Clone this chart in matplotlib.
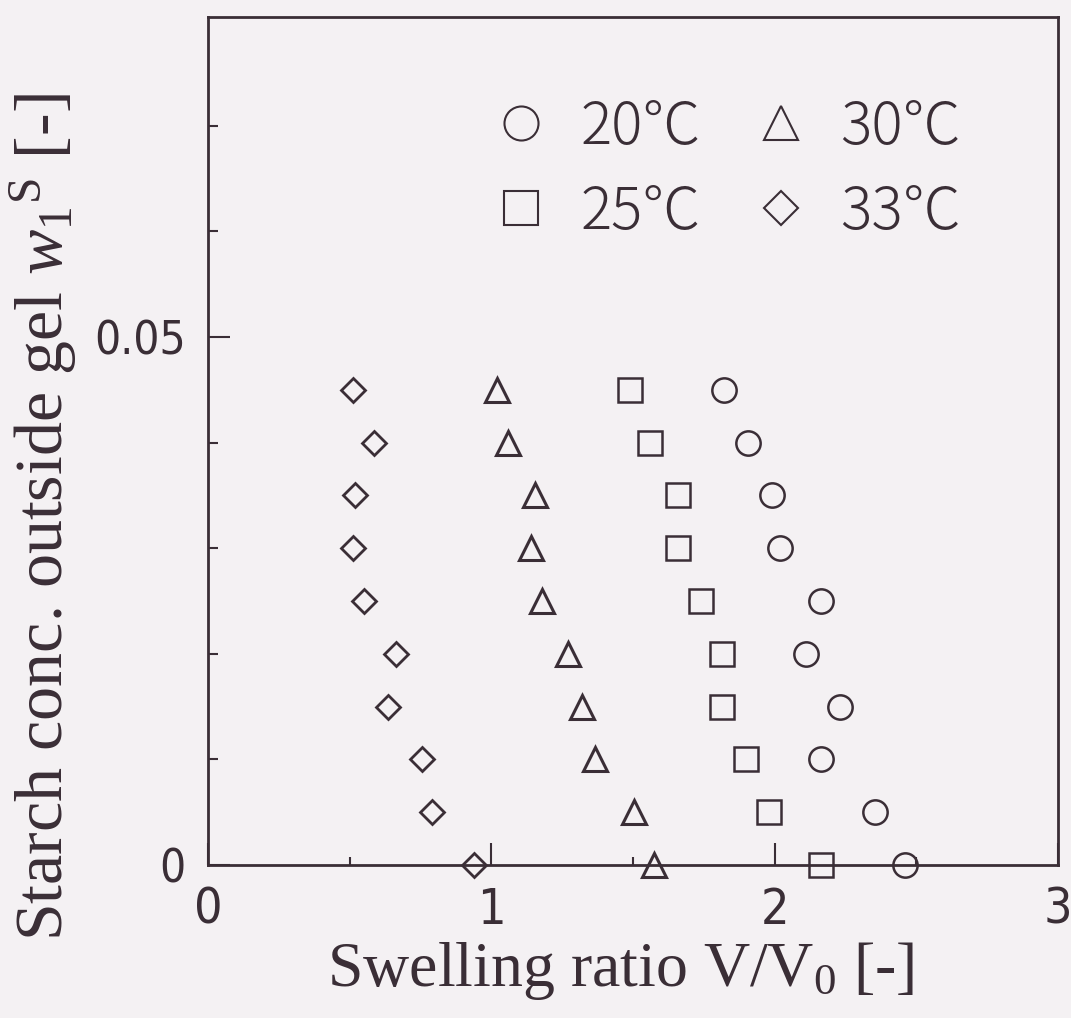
import matplotlib
matplotlib.use("Agg")
import matplotlib.pyplot as plt

# Starch concentration outside the gel (rows) and swelling ratio per temperature
conc = [0.045, 0.040, 0.035, 0.030, 0.025, 0.020, 0.015, 0.010, 0.005, 0.0]
ratio_20 = [1.82, 1.905, 1.99, 2.02, 2.165, 2.11, 2.23, 2.165, 2.355, 2.46]
ratio_25 = [1.49, 1.56, 1.66, 1.66, 1.74, 1.815, 1.815, 1.90, 1.98, 2.165]
ratio_30 = [1.02, 1.06, 1.155, 1.14, 1.18, 1.27, 1.32, 1.365, 1.505, 1.575]
ratio_33 = [0.51, 0.585, 0.52, 0.51, 0.55, 0.665, 0.635, 0.755, 0.79, 0.94]
temp_labels = ["20℃", "25℃", "30℃", "33℃"]

x_ticks = [0, 1, 2, 3]
x_ticklabels = ["0", "1", "2", "3"]
x_minor = [0.5, 1.5, 2.5]
y_ticks = [0, 0.05]
y_ticklabels = ["0", "0.05"]
y_minor = [0.01, 0.02, 0.03, 0.04, 0.06, 0.07]

ink = "#3a2e36"
paper = "#f4f1f3"

plt.rcParams["mathtext.fontset"] = "custom"
plt.rcParams["mathtext.rm"] = "Liberation Serif"
plt.rcParams["mathtext.it"] = "Liberation Serif:italic"

fig = plt.figure(figsize=(10.71, 10.18), dpi=100, facecolor=paper)
ax = fig.add_axes([208 / 1071, 1 - 865 / 1018, 850 / 1071, 848 / 1018])
ax.set_facecolor(paper)
ax.set_xlim(0, 3)
ax.set_ylim(0, 0.0803)

common = dict(linestyle="none", markerfacecolor="none", markeredgecolor=ink,
              clip_on=False, zorder=3)
h20, = ax.plot(ratio_20, conc, marker="o", markersize=17.5, markeredgewidth=1.8, **common)
h25, = ax.plot(ratio_25, conc, marker="s", markersize=17.5, markeredgewidth=1.8, **common)
h30, = ax.plot(ratio_30, conc, marker="^", markersize=17.5, markeredgewidth=2.2, **common)
h33, = ax.plot(ratio_33, conc, marker="D", markersize=12.5, markeredgewidth=2.0, **common)

for sp in ax.spines.values():
    sp.set_linewidth(2.0)
    sp.set_color(ink)

tick_font = dict(family="DejaVu Sans", stretch="condensed", weight="light", color=ink)
ax.set_xticks(x_ticks)
ax.set_xticklabels(x_ticklabels, fontsize=36, **tick_font)
ax.set_xticks(x_minor, minor=True)
ax.set_yticks(y_ticks)
ax.set_yticklabels(y_ticklabels, fontsize=33, **tick_font)
ax.set_yticks(y_minor, minor=True)

ax.tick_params(axis="x", which="major", direction="in", length=16, width=1.5,
               pad=15, color=ink, top=False)
ax.tick_params(axis="x", which="minor", direction="in", length=6, width=1.5,
               color=ink, top=False)
ax.tick_params(axis="y", which="major", direction="in", length=16, width=1.5,
               pad=16, color=ink, right=False)
ax.tick_params(axis="y", which="minor", direction="in", length=7, width=1.5,
               color=ink, right=False)

ax.set_xlabel("Swelling ratio V/V$_0$ [-]", family="Liberation Serif",
              fontsize=46, color=ink)
ax.xaxis.set_label_coords(0.485, -0.088)
ax.set_ylabel("Starch conc. outside gel $w_1{}^{\\mathrm{S}}$ [-]",
              family="Liberation Serif", fontsize=49, color=ink)
ax.yaxis.set_label_coords(-0.150, 0.41)

leg = ax.legend([h20, h25, h30, h33], temp_labels, ncol=2, frameon=False,
                loc="upper left", bbox_to_anchor=(502 / 1071, 1 - 97 / 1018),
                bbox_transform=fig.transFigure, borderpad=0, borderaxespad=0,
                markerscale=1.4, handlelength=0.65, handletextpad=0.7,
                columnspacing=1.03, labelspacing=0.42,
                prop={"family": ["Noto Sans CJK JP", "DejaVu Sans"],
                      "weight": "light", "size": 42})
for t in leg.get_texts():
    t.set_color(ink)
for lh in leg.legend_handles:
    lh.set_markeredgewidth(1.5)

fig.savefig("out.png", dpi=100, facecolor=paper)
